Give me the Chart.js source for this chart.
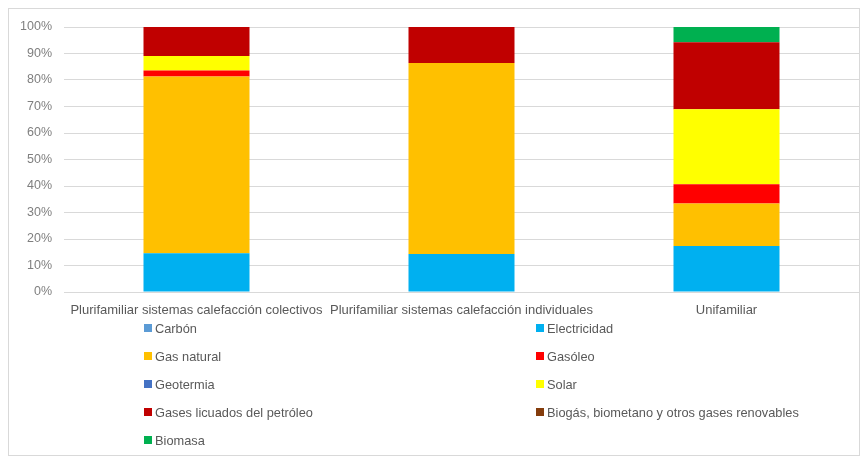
<!DOCTYPE html>
<html>
<head>
<meta charset="utf-8">
<script src="https://cdn.jsdelivr.net/npm/chart.js@4"></script>
<style>
  html, body { margin: 0; padding: 0; background: #fff; }
  #wrap { position: relative; width: 863px; height: 459px; }
  #frame { position: absolute; left: 8px; top: 8px; width: 850px; height: 446px; border: 1px solid #d9d9d9; pointer-events: none; }
</style>
</head>
<body>
<div id="wrap">
  <canvas id="grafica" width="863" height="459"></canvas>
  <div id="frame"></div>
</div>
<script>
const categorias = [
  'Plurifamiliar sistemas calefacción colectivos',
  'Plurifamiliar sistemas calefacción individuales',
  'Unifamiliar'
];
const series = [
  'Carbón', 'Electricidad', 'Gas natural', 'Gasóleo', 'Geotermia',
  'Solar', 'Gases licuados del petróleo', 'Biogás, biometano y otros gases renovables', 'Biomasa'
];
// porcentaje de cada fuente por tipo de vivienda
const carbon       = [0, 0, 0];
const electricidad = [14.6, 14.3, 17.4];
const gasNatural   = [66.7, 72.1, 16.0];
const gasoleo      = [2.3, 0, 7.3];
const geotermia    = [0, 0, 0];
const solar        = [5.5, 0, 28.3];
const glp          = [10.9, 13.6, 25.2];
const biogas       = [0, 0, 0];
const biomasa      = [0, 0, 5.8];
const ticksY = ['0%', '10%', '20%', '30%', '40%', '50%', '60%', '70%', '80%', '90%', '100%'];

const colores = ['#5B9BD5', '#00B0F0', '#FFC000', '#FF0000', '#4472C4', '#FFFF00', '#C00000', '#843C0C', '#00B050'];
const valores = [carbon, electricidad, gasNatural, gasoleo, geotermia, solar, glp, biogas, biomasa];

const fuente = '"Liberation Sans", Arial, sans-serif';

const leyenda = {
  id: 'leyenda',
  afterDraw(chart) {
    const c = chart.ctx;
    c.save();
    c.font = '12.8px ' + fuente;
    c.textBaseline = 'middle';
    chart.data.datasets.forEach((ds, i) => {
      const col = i % 2, fila = Math.floor(i / 2);
      const x = col === 0 ? 144 : 536;
      const y = 328 + fila * 28;
      c.fillStyle = ds.backgroundColor;
      c.fillRect(x, y - 4, 8, 8);
      c.fillStyle = '#595959';
      c.fillText(ds.label, x + 11, y + 1);
    });
    c.restore();
  }
};

new Chart(document.getElementById('grafica').getContext('2d'), {
  type: 'bar',
  data: {
    labels: categorias,
    datasets: series.map((s, i) => ({
      label: s,
      data: valores[i],
      backgroundColor: colores[i],
      borderWidth: 0,
      categoryPercentage: 1,
      barPercentage: 0.4
    }))
  },
  options: {
    responsive: false,
    animation: false,
    layout: { padding: { top: 27, left: 12, right: 4, bottom: 0 } },
    plugins: { legend: { display: false }, tooltip: { enabled: false } },
    scales: {
      x: {
        stacked: true,
        grid: { display: false, drawTicks: false },
        border: { color: '#d9d9d9' },
        ticks: { color: '#595959', font: { family: fuente, size: 13 }, padding: 11, maxRotation: 0, autoSkip: false },
        afterFit(scale) { scale.height = 167; }
      },
      y: {
        stacked: true,
        min: 0, max: 100,
        grid: { color: '#d9d9d9', drawTicks: false },
        border: { display: false },
        ticks: {
          stepSize: 10,
          padding: 12,
          color: '#7f7f7f',
          font: { family: fuente, size: 12.5 },
          callback: (v) => ticksY[Math.round(v / 10)]
        },
        afterFit(scale) { scale.width = 52; }
      }
    }
  },
  plugins: [leyenda]
});
</script>
</body>
</html>
